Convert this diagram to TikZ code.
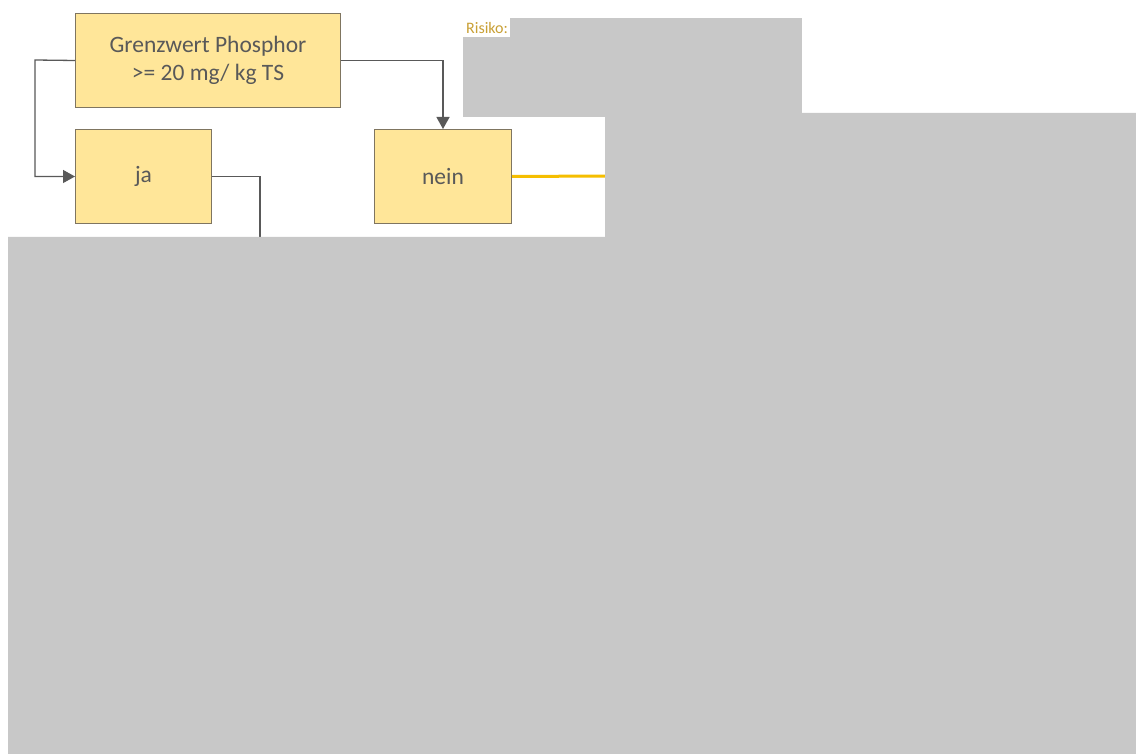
\documentclass[tikz,border=0pt]{standalone}
\usepackage{fontspec}
\setmainfont{Carlito}
\usetikzlibrary{arrows.meta}
\definecolor{boxfill}{HTML}{FFE699}
\definecolor{boxline}{HTML}{7F7560}
\definecolor{txt}{HTML}{595959}
\definecolor{conn}{HTML}{595959}
\definecolor{cover}{HTML}{C8C8C8}
\definecolor{gold}{HTML}{C9A035}
\definecolor{yline}{HTML}{F5BE00}
\begin{document}
\begin{tikzpicture}[x=1pt,y=-1pt,
  flowbox/.style={draw=boxline,line width=1pt,fill=boxfill,text=txt,
    font=\fontsize{23.5}{28}\selectfont,align=center,inner sep=0pt,anchor=north west},
  connector/.style={draw=conn,line width=1.3pt},
  arrowed/.style={connector,-{Triangle[length=12pt,width=13pt]}},
  coverfill/.style={fill=cover,draw=none}]
\useasboundingbox[fill=white] (0,0) rectangle (1136,754);
\node[flowbox,minimum width=265pt,minimum height=94pt] (g) at (75,13)
  {Grenzwert Phosphor\\>= 20 mg/ kg TS};
\node[flowbox,minimum width=136pt,minimum height=94pt] (ja) at (75,129) {ja};
\node[flowbox,minimum width=137pt,minimum height=94pt] (nein) at (374,129) {nein};
\coordinate (jaend) at (260,240);
\coordinate (neinend) at (606,176);
\coordinate (gl) at (35,60);
\draw[arrowed] (g.west) -- (gl) |- (ja.west);
\draw[arrowed] (g.east) -| (nein.north);
\draw[connector] (ja.east) -| (jaend);
\draw[yline,line width=3pt] (nein.east) -- (neinend);
% occluding grey regions
\fill[coverfill] (463,18) rectangle (802,117);
\fill[coverfill] (605,113) -- (1136,113) -- (1136,754) -- (8,754) -- (8,237) -- (605,237) -- cycle;
\node[fill=white,text=gold,font=\fontsize{16}{18}\selectfont,inner xsep=3pt,inner ysep=0pt,
  minimum height=19pt,text width=41pt,anchor=north west] (risk) at (463,18) {Risiko:};
\end{tikzpicture}
\end{document}
